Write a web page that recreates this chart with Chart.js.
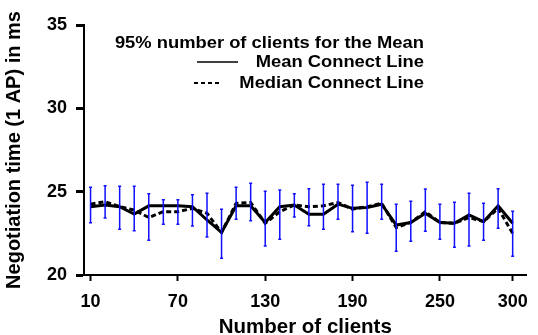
<!DOCTYPE html>
<html>
<head>
<meta charset="utf-8">
<script src="https://cdn.jsdelivr.net/npm/chart.js@4.4.1/dist/chart.umd.min.js"></script>
<style>
  html, body { margin: 0; padding: 0; background: #fff; }
</style>
</head>
<body>
<canvas id="c" width="538" height="335"></canvas>
<script>
// Number of clients sampled
const clients = [10, 20, 30, 40, 50, 60, 70, 80, 90, 100,
                 110, 120, 130, 140, 150, 160, 170, 180, 190, 200,
                 210, 220, 230, 240, 250, 260, 270, 280, 290, 300];

// Mean negotiation time (ms)
const meanTime = [24.1, 24.2, 24.1, 23.65, 24.15, 24.15, 24.15, 24.1, 23.3, 22.55,
                  24.15, 24.15, 23.15, 24.1, 24.2, 23.65, 23.65, 24.25, 24.0, 24.05,
                  24.25, 23.0, 23.15, 23.7, 23.15, 23.1, 23.6, 23.2, 24.15, 23.1];

// Median negotiation time (ms)
const medianTime = [24.25, 24.4, 24.1, 23.9, 23.45, 23.8, 23.8, 24.0, 23.7, 22.55,
                    24.3, 24.35, 23.1, 23.8, 24.2, 24.1, 24.15, 24.35, 23.95, 24.1,
                    24.3, 22.85, 23.15, 23.8, 23.15, 23.1, 23.45, 23.2, 24.0, 22.5];

// 95% interval bounds of the mean
const ciUpper = [25.26, 25.36, 25.32, 25.32, 24.88, 24.52, 24.52, 24.82, 24.9, 23.94,
                 25.26, 25.5, 25.02, 25.1, 24.88, 25.18, 25.44, 25.44, 25.38, 25.56,
                 25.44, 24.24, 24.42, 25.16, 24.24, 24.36, 24.9, 24.3, 25.18, 23.82];
const ciLower = [23.14, 23.42, 22.74, 22.66, 22.08, 23.04, 23.04, 22.94, 22.28, 21.0,
                 23.34, 23.26, 21.74, 22.14, 23.48, 22.96, 22.74, 23.34, 22.6, 22.5,
                 23.34, 21.42, 22.02, 22.62, 22.14, 21.66, 21.74, 22.08, 22.8, 21.12];

// Axis tick labels
const xTicks = [10, 70, 130, 190, 250, 300];
const yTicks = [20, 25, 30, 35];

const FONT = '"Liberation Sans", Arial, Helvetica, sans-serif';

// Vertical interval bars with small caps, drawn over the lines
const errorBars = {
  id: 'errorBars',
  afterDatasetsDraw(chart) {
    const { ctx, scales: { x, y } } = chart;
    ctx.save();
    ctx.strokeStyle = '#1010ff';
    ctx.lineWidth = 1.5;
    clients.forEach((c, i) => {
      const px = x.getPixelForValue(c);
      const top = y.getPixelForValue(ciUpper[i]);
      const bot = y.getPixelForValue(ciLower[i]);
      ctx.beginPath();
      ctx.moveTo(px, top); ctx.lineTo(px, bot);
      ctx.moveTo(px - 1.5, top); ctx.lineTo(px + 1.5, top);
      ctx.moveTo(px - 1.5, bot); ctx.lineTo(px + 1.5, bot);
      ctx.stroke();
    });
    ctx.restore();
  }
};

// Key block in the upper part of the plot (text slightly widened)
const keyBlock = {
  id: 'keyBlock',
  afterDraw(chart) {
    const { ctx, chartArea: a } = chart;
    const right = a.left + 340;
    const rows = [
      ['95% number of clients for the Mean', a.top + 18],
      ['Mean Connect Line', a.top + 37],
      ['Median Connect Line', a.top + 58]
    ];
    ctx.save();
    ctx.fillStyle = '#000';
    ctx.font = 'bold 17px ' + FONT;
    ctx.textAlign = 'right';
    ctx.textBaseline = 'middle';
    rows.forEach(([t, yy]) => {
      ctx.save();
      ctx.translate(right, yy);
      ctx.scale(1.08, 1);
      ctx.fillText(t, 0, 0);
      ctx.restore();
    });
    ctx.strokeStyle = '#000';
    ctx.lineWidth = 1.5;
    ctx.beginPath();
    ctx.moveTo(a.left + 113, a.top + 37);
    ctx.lineTo(a.left + 154, a.top + 37);
    ctx.stroke();
    ctx.lineWidth = 2;
    ctx.setLineDash([4, 3]);
    ctx.beginPath();
    ctx.moveTo(a.left + 110, a.top + 58);
    ctx.lineTo(a.left + 138, a.top + 58);
    ctx.stroke();
    ctx.restore();
  }
};

new Chart(document.getElementById('c'), {
  type: 'line',
  data: {
    datasets: [
      {
        label: 'Mean Connect Line',
        data: clients.map((c, i) => ({ x: c, y: meanTime[i] })),
        borderColor: '#000',
        borderWidth: 3,
        pointRadius: 0,
        tension: 0,
        fill: false
      },
      {
        label: 'Median Connect Line',
        data: clients.map((c, i) => ({ x: c, y: medianTime[i] })),
        borderColor: '#000',
        borderWidth: 3,
        borderDash: [5, 3],
        pointRadius: 0,
        tension: 0,
        fill: false
      }
    ]
  },
  options: {
    responsive: false,
    animation: false,
    layout: { padding: { top: 25, right: 10, left: 0, bottom: 0 } },
    plugins: {
      legend: { display: false },
      tooltip: { enabled: false }
    },
    scales: {
      x: {
        type: 'linear',
        min: 5.5,
        max: 309.5,
        afterBuildTicks: s => { s.ticks = xTicks.map(v => ({ value: v })); },
        afterFit: s => { s.height = 60; },
        border: { color: '#000', width: 2 },
        grid: { drawOnChartArea: false, drawTicks: true, tickLength: 6, tickWidth: 2, tickColor: '#000' },
        ticks: {
          color: '#000',
          font: { family: FONT, size: 18, weight: 700 },
          padding: 10,
          maxRotation: 0,
          autoSkip: false
        },
        title: {
          display: true,
          text: 'Number of clients',
          color: '#000',
          font: { family: FONT, size: 20.5, weight: 700 },
          padding: { top: 0, bottom: -5 }
        }
      },
      y: {
        type: 'linear',
        min: 20,
        max: 35,
        afterBuildTicks: s => { s.ticks = yTicks.map(v => ({ value: v })); },
        afterFit: s => { s.width = 84; },
        border: { color: '#000', width: 2 },
        grid: { drawOnChartArea: false, drawTicks: true, tickLength: 8, tickWidth: 3, tickColor: '#000' },
        ticks: {
          color: '#000',
          font: { family: FONT, size: 18, weight: 700 },
          padding: 9
        },
        title: {
          display: true,
          text: 'Negotiation time (1 AP) in ms',
          color: '#000',
          font: { family: FONT, size: 20, weight: 700 },
          padding: { top: 2, bottom: 0 }
        }
      }
    }
  },
  plugins: [errorBars, keyBlock]
});
</script>
</body>
</html>
